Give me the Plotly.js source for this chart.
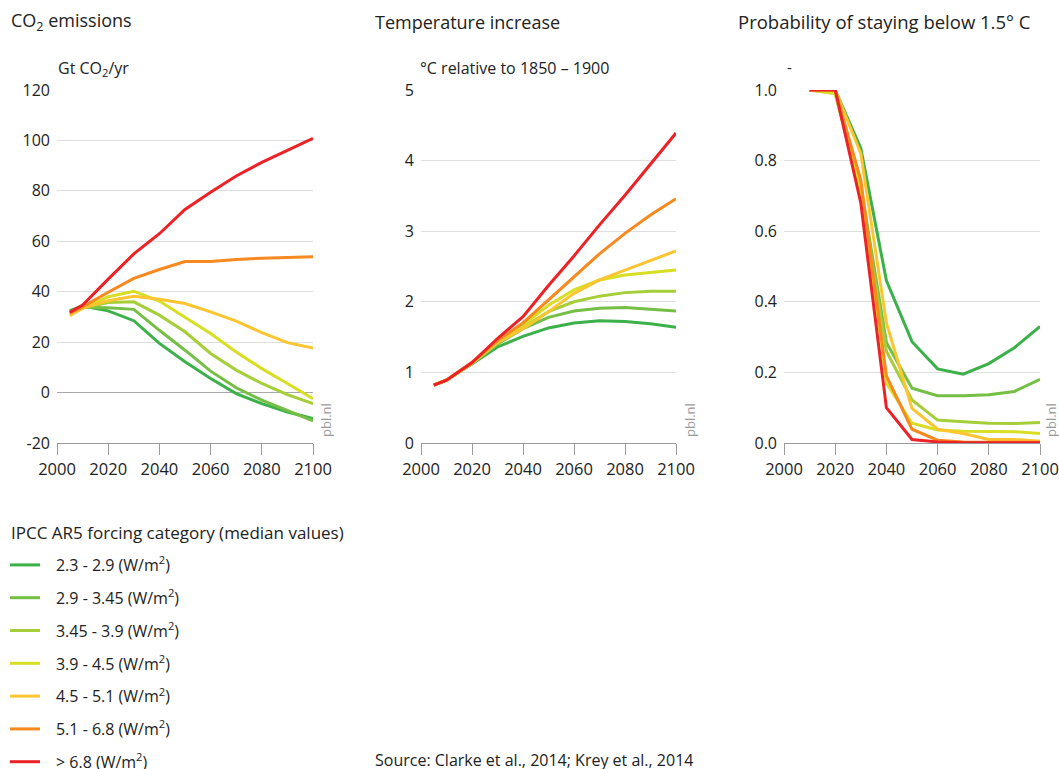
<!DOCTYPE html>
<html>
<head>
<meta charset="utf-8">
<script src="https://cdn.plot.ly/plotly-3.0.1.min.js"></script>
<style>html,body{margin:0;padding:0;background:#fff;}#chart{width:1059px;height:769px;}</style>
</head>
<body>
<div id="chart"></div>
<script>
// ---------- data ----------
const categories = [
  '2.3 - 2.9 (W/m<sup>2</sup>)',
  '2.9 - 3.45 (W/m<sup>2</sup>)',
  '3.45 - 3.9 (W/m<sup>2</sup>)',
  '3.9 - 4.5 (W/m<sup>2</sup>)',
  '4.5 - 5.1 (W/m<sup>2</sup>)',
  '5.1 - 6.8 (W/m<sup>2</sup>)',
  '> 6.8 (W/m<sup>2</sup>)'
];
const colors = ['#3cb14a', '#74bf44', '#a6ce39', '#d8df22', '#fdc52f', '#f7891f', '#ec2227'];

const co2Years = [2005, 2010, 2020, 2030, 2040, 2050, 2060, 2070, 2080, 2090, 2100];
const co2_23_29  = [32.5, 34.3, 32.4, 28.5, 19.5, 12.2, 5.6, -0.4, -4.4, -7.7, -10.3];
const co2_29_345 = [32.0, 33.8, 33.6, 33.0, 24.7, 16.8, 8.5, 1.9, -3.0, -7.0, -11.2];
const co2_345_39 = [31.5, 33.5, 35.7, 36.0, 30.7, 24.1, 15.5, 8.9, 3.6, -0.8, -4.4];
const co2_39_45  = [31.0, 33.5, 38.0, 40.2, 36.3, 30.0, 23.4, 16.1, 9.5, 3.6, -2.4];
const co2_45_51  = [30.5, 33.5, 36.4, 38.2, 37.0, 35.3, 32.0, 28.3, 23.8, 19.8, 17.7];
const co2_51_68  = [31.5, 34.0, 39.8, 45.3, 48.8, 52.0, 52.0, 52.8, 53.3, 53.6, 53.9];
const co2_68     = [31.8, 34.7, 45.0, 55.0, 63.0, 72.6, 79.4, 85.9, 91.3, 96.2, 100.8];
const co2TickVals   = [-20, 0, 20, 40, 60, 80, 100, 120];
const co2TickLabels = ['-20', '0', '20', '40', '60', '80', '100', '120'];

const tempYears = [2005, 2010, 2020, 2030, 2040, 2050, 2060, 2070, 2080, 2090, 2100];
const temp_23_29  = [0.82, 0.89, 1.12, 1.36, 1.51, 1.63, 1.70, 1.73, 1.72, 1.69, 1.64];
const temp_29_345 = [0.82, 0.89, 1.13, 1.40, 1.62, 1.78, 1.87, 1.91, 1.92, 1.90, 1.87];
const temp_345_39 = [0.82, 0.89, 1.13, 1.42, 1.64, 1.86, 2.00, 2.08, 2.13, 2.15, 2.15];
const temp_39_45  = [0.82, 0.89, 1.14, 1.43, 1.67, 1.95, 2.17, 2.31, 2.38, 2.42, 2.45];
const temp_45_51  = [0.82, 0.89, 1.13, 1.42, 1.62, 1.86, 2.12, 2.31, 2.45, 2.59, 2.72];
const temp_51_68  = [0.82, 0.89, 1.14, 1.45, 1.70, 2.03, 2.36, 2.68, 2.97, 3.23, 3.46];
const temp_68     = [0.82, 0.89, 1.14, 1.48, 1.79, 2.23, 2.65, 3.09, 3.51, 3.95, 4.39];

const probYears = [2010, 2020, 2030, 2040, 2050, 2060, 2070, 2080, 2090, 2100];
const prob_23_29  = [1.0, 1.0, 0.835, 0.46, 0.287, 0.21, 0.195, 0.225, 0.27, 0.33];
const prob_29_345 = [1.0, 0.995, 0.73, 0.285, 0.155, 0.134, 0.134, 0.137, 0.146, 0.18];
const prob_345_39 = [1.0, 0.99, 0.71, 0.26, 0.122, 0.065, 0.06, 0.056, 0.055, 0.058];
const prob_39_45  = [1.0, 0.99, 0.72, 0.17, 0.056, 0.037, 0.033, 0.032, 0.032, 0.027];
const prob_45_51  = [1.0, 1.0, 0.82, 0.34, 0.098, 0.039, 0.027, 0.01, 0.01, 0.005];
const prob_51_68  = [1.0, 1.0, 0.745, 0.19, 0.039, 0.008, 0.003, 0.002, 0.002, 0.002];
const prob_68     = [1.0, 1.0, 0.68, 0.10, 0.01, 0.003, 0.001, 0.001, 0.001, 0.001];

const xTicks = [2000, 2020, 2040, 2060, 2080, 2100];

// ---------- traces ----------
const co2Series  = [co2_23_29, co2_29_345, co2_345_39, co2_39_45, co2_45_51, co2_51_68, co2_68];
const tempSeries = [temp_23_29, temp_29_345, temp_345_39, temp_39_45, temp_45_51, temp_51_68, temp_68];
const probSeries = [prob_23_29, prob_29_345, prob_345_39, prob_39_45, prob_45_51, prob_51_68, prob_68];

const FONT = 'Open Sans, Noto Sans, sans-serif';
const PAD = '\u00a0\u00a0\u2009';
const traces = [];
function addPanel(years, series, xa, ya, showLegend) {
  series.forEach((vals, i) => {
    traces.push({
      type: 'scatter', mode: 'lines',
      x: years, y: vals,
      xaxis: xa, yaxis: ya,
      name: PAD + categories[i],
      legendgroup: 'g' + i,
      showlegend: showLegend,
      line: {color: colors[i], width: 3},
      hoverinfo: 'x+y+name'
    });
  });
}
addPanel(co2Years, co2Series, 'x', 'y', true);
addPanel(tempYears, tempSeries, 'x2', 'y2', false);
addPanel(probYears, probSeries, 'x3', 'y3', false);

// ---------- layout ----------
const W = 1059, H = 769;
const px = v => v / W;
const py = v => 1 - v / H;
const yDom = [py(443), py(90)];

function xAxis(dom, anchor) {
  return {
    domain: dom, anchor: anchor, range: [2000, 2100],
    tickvals: xTicks, showgrid: false, zeroline: false,
    showline: true, linecolor: '#9b9b9b', linewidth: 1,
    ticks: 'outside', ticklen: 11, tickcolor: '#9b9b9b', tickwidth: 1,
    ticklabeloverflow: 'allow', automargin: false,
    tickfont: {family: FONT, size: 16.5, color: '#222'}, fixedrange: true
  };
}
function yAxis(anchor, range, dtick, fmt, zl) {
  return {
    domain: yDom, anchor: anchor, range: range, dtick: dtick, tick0: range[0],
    tickformat: fmt, showgrid: true, gridcolor: '#dedede', gridwidth: 1,
    showline: false, ticks: '', ticklabelstandoff: 6, automargin: false,
    zeroline: zl, zerolinecolor: '#a8a8a8', zerolinewidth: 1,
    tickfont: {family: FONT, size: 16, color: '#222'}, fixedrange: true
  };
}

const annFont = (s, c) => ({family: FONT, size: s, color: c || '#222'});
const annotations = [
  {text: 'CO<sub>2</sub> emissions', x: px(9), y: py(22), xanchor: 'left', yanchor: 'middle', font: annFont(18)},
  {text: 'Temperature increase', x: px(373), y: py(22), xanchor: 'left', yanchor: 'middle', font: annFont(18)},
  {text: 'Probability of staying below 1.5° C', x: px(736), y: py(22), xanchor: 'left', yanchor: 'middle', font: annFont(18.5)},
  {text: 'Gt CO<sub>2</sub>/yr', x: px(56), y: py(68), xanchor: 'left', yanchor: 'middle', font: annFont(16)},
  {text: '°C relative to 1850 – 1900', x: px(418), y: py(68), xanchor: 'left', yanchor: 'middle', font: annFont(16)},
  {text: '-', x: px(785), y: py(67), xanchor: 'left', yanchor: 'middle', font: annFont(15)},
  {text: 'pbl.nl', x: px(326), y: py(439), xanchor: 'center', yanchor: 'bottom', textangle: -90, font: annFont(13, '#9a9a9a')},
  {text: 'pbl.nl', x: px(690), y: py(439), xanchor: 'center', yanchor: 'bottom', textangle: -90, font: annFont(13, '#9a9a9a')},
  {text: 'pbl.nl', x: px(1051), y: py(439), xanchor: 'center', yanchor: 'bottom', textangle: -90, font: annFont(13, '#9a9a9a')},
  {text: 'IPCC AR5 forcing category (median values)', x: px(9), y: py(532), xanchor: 'left', yanchor: 'middle', font: annFont(17)},
  {text: 'Source: Clarke et al., 2014; Krey et al., 2014', x: px(373), y: py(760), xanchor: 'left', yanchor: 'middle', font: annFont(16)}
].map(a => Object.assign({xref: 'paper', yref: 'paper', showarrow: false}, a));

const layout = {
  width: W, height: H,
  margin: {l: 0, r: 0, t: 0, b: 0, autoexpand: false},
  paper_bgcolor: '#fff', plot_bgcolor: '#fff',
  font: {family: FONT, color: '#222'},
  showlegend: true,
  legend: {
    xref: 'container', yref: 'container',
    x: px(5), y: py(548), xanchor: 'left', yanchor: 'top',
    orientation: 'v', traceorder: 'grouped', tracegroupgap: 9,
    itemwidth: 30, bgcolor: 'rgba(0,0,0,0)',
    font: {family: FONT, size: 16, color: '#222'}
  },
  xaxis: xAxis([px(57), px(313)], 'y'),
  yaxis: Object.assign(yAxis('x', [-20, 120], 20, '', true), {tickmode: 'array', tickvals: co2TickVals, ticktext: co2TickLabels}),
  xaxis2: xAxis([px(421), px(676)], 'y2'),
  yaxis2: yAxis('x2', [0, 5], 1, '', false),
  xaxis3: xAxis([px(784), px(1040)], 'y3'),
  yaxis3: yAxis('x3', [0, 1], 0.2, '.1f', false),
  annotations: annotations
};

Plotly.newPlot('chart', traces, layout, {displayModeBar: false, staticPlot: true});
</script>
</body>
</html>
